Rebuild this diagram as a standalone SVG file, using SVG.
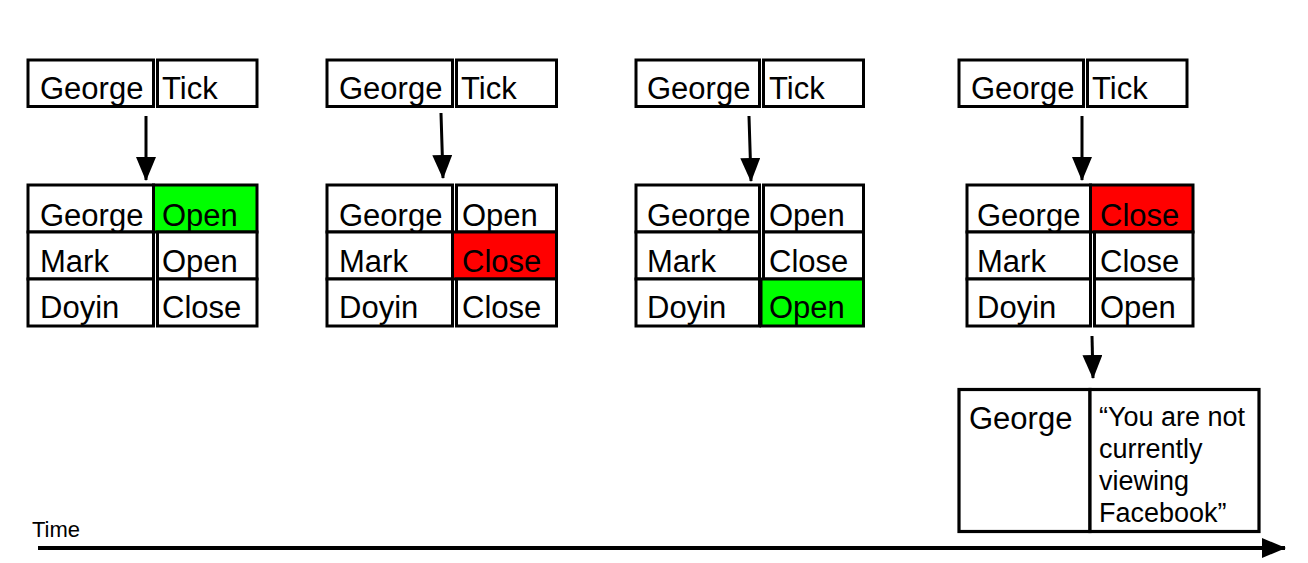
<svg xmlns="http://www.w3.org/2000/svg" width="1308" height="563" viewBox="0 0 1308 563">
<style>
.c{fill:#fff;stroke:#000;stroke-width:3}
.g{fill:#00ff00}
.r{fill:#ff0000}
text{font-family:"Liberation Sans",Arial,sans-serif;font-size:31px;fill:#000}
.small{font-size:27px}
.time{font-size:22px}
.ln{stroke:#000;stroke-width:3;fill:none}
</style>
<defs>
<marker id="ah" markerUnits="userSpaceOnUse" markerWidth="24" markerHeight="20" viewBox="0 0 24 20" refX="23" refY="10" orient="auto">
<path d="M0,0 L24,10 L0,20 z" fill="#000"/>
</marker>
</defs>
<rect width="1308" height="563" fill="#fff"/>

<g id="panel1-tick">
<rect class="c" x="28" y="60" width="125.5" height="46.5"/>
<rect class="c" x="157.5" y="60" width="99.5" height="46.5"/>
<text x="40" y="99">George</text><text x="162" y="99">Tick</text>
</g>
<g id="panel1-table">
<rect class="c" x="28" y="185" width="125.5" height="47"/>
<rect class="c g" x="153.5" y="185" width="103.5" height="47" style="stroke:#000"/>
<rect class="c" x="28" y="232" width="125.5" height="47"/>
<rect class="c" x="157.5" y="232" width="99.5" height="47"/>
<rect class="c" x="28" y="279" width="125.5" height="47"/>
<rect class="c" x="157.5" y="279" width="99.5" height="47"/>
<text x="40" y="226">George</text><text x="162" y="226">Open</text>
<text x="40" y="272">Mark</text><text x="162" y="272">Open</text>
<text x="40" y="318">Doyin</text><text x="162" y="318">Close</text>
</g>

<g id="panel2-tick">
<rect class="c" x="327" y="60" width="125.5" height="46.5"/>
<rect class="c" x="456.5" y="60" width="100" height="46.5"/>
<text x="339" y="99">George</text><text x="461" y="99">Tick</text>
</g>
<g id="panel2-table">
<rect class="c" x="327" y="185" width="125.5" height="47"/>
<rect class="c" x="456.5" y="185" width="100" height="47"/>
<rect class="c" x="327" y="232" width="125.5" height="47"/>
<rect class="c r" x="452.5" y="232" width="104" height="47" style="stroke:#000"/>
<rect class="c" x="327" y="279" width="125.5" height="47"/>
<rect class="c" x="456.5" y="279" width="100" height="47"/>
<text x="339" y="226">George</text><text x="462" y="226">Open</text>
<text x="339" y="272">Mark</text><text x="462" y="272">Close</text>
<text x="339" y="318">Doyin</text><text x="462" y="318">Close</text>
</g>

<g id="panel3-tick">
<rect class="c" x="636" y="60" width="123.5" height="46.5"/>
<rect class="c" x="763.5" y="60" width="100" height="46.5"/>
<text x="647" y="99">George</text><text x="769" y="99">Tick</text>
</g>
<g id="panel3-table">
<rect class="c" x="636" y="185" width="123.5" height="47"/>
<rect class="c" x="763.5" y="185" width="100" height="47"/>
<rect class="c" x="636" y="232" width="123.5" height="47"/>
<rect class="c" x="763.5" y="232" width="100" height="47"/>
<rect class="c" x="636" y="279" width="123.5" height="47"/>
<rect class="c g" x="761" y="279" width="102.5" height="47" style="stroke:#000"/>
<text x="647" y="226">George</text><text x="769" y="226">Open</text>
<text x="647" y="272">Mark</text><text x="769" y="272">Close</text>
<text x="647" y="318">Doyin</text><text x="769" y="318">Open</text>
</g>

<g id="panel4-tick">
<rect class="c" x="959" y="60" width="124.5" height="46.5"/>
<rect class="c" x="1087.5" y="60" width="99.5" height="46.5"/>
<text x="971" y="99">George</text><text x="1092" y="99">Tick</text>
</g>
<g id="panel4-table">
<rect class="c" x="967" y="185" width="123.5" height="47"/>
<rect class="c r" x="1090.5" y="185" width="102.5" height="47" style="stroke:#000"/>
<rect class="c" x="967" y="232" width="123.5" height="47"/>
<rect class="c" x="1094.5" y="232" width="98.5" height="47"/>
<rect class="c" x="967" y="279" width="123.5" height="47"/>
<rect class="c" x="1094.5" y="279" width="98.5" height="47"/>
<text x="977" y="226">George</text><text x="1100" y="226">Close</text>
<text x="977" y="272">Mark</text><text x="1100" y="272">Close</text>
<text x="977" y="318">Doyin</text><text x="1100" y="318">Open</text>
</g>

<g id="message">
<rect class="c" x="959" y="389.5" width="131" height="142" style="stroke-width:3.2"/>
<rect class="c" x="1090" y="389.5" width="169" height="142" style="stroke-width:3.2"/>
<text x="969" y="429">George</text>
<text class="small" x="1099" y="426">“You are not</text>
<text class="small" x="1099" y="458">currently</text>
<text class="small" x="1099" y="490">viewing</text>
<text class="small" x="1099" y="522">Facebook”</text>
</g>

<g id="time-label">
<text class="time" x="32" y="537">Time</text>
</g>

<g id="connectors">
<line class="ln" x1="146" y1="116" x2="146" y2="180" marker-end="url(#ah)"/>
<line class="ln" x1="441" y1="113" x2="443" y2="178" marker-end="url(#ah)"/>
<line class="ln" x1="749" y1="116" x2="751" y2="181" marker-end="url(#ah)"/>
<line class="ln" x1="1082" y1="116" x2="1082" y2="180" marker-end="url(#ah)"/>
<line class="ln" x1="1092" y1="336" x2="1093" y2="378" marker-end="url(#ah)"/>
<line class="ln" x1="38" y1="548" x2="1285" y2="548" style="stroke-width:4" marker-end="url(#ah)"/>
</g>
</svg>
